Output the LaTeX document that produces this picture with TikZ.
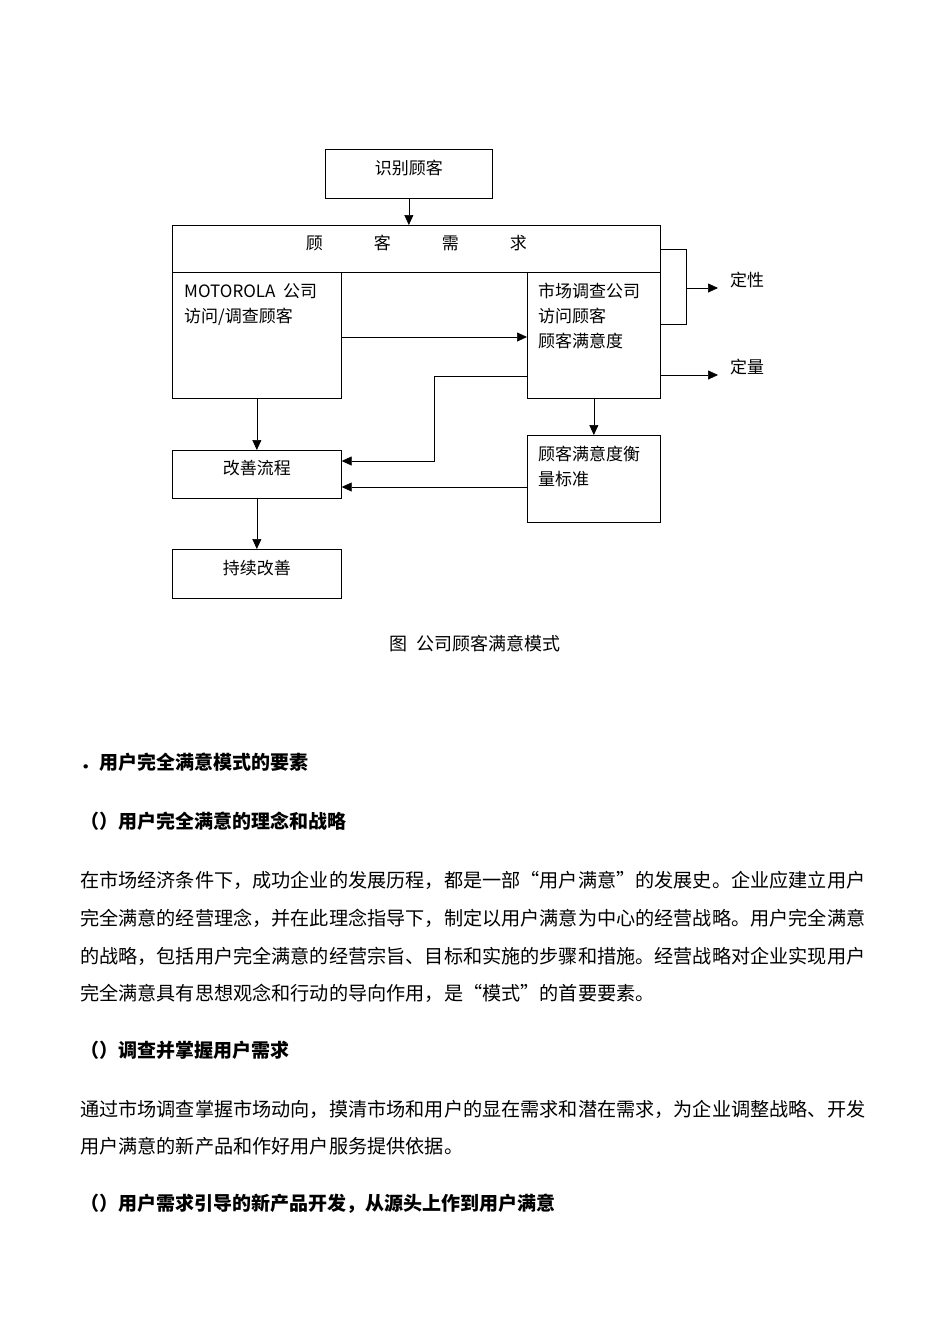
\documentclass[tikz,border=0pt]{standalone}
\usepackage{fontspec}
\setmainfont{Noto Sans CJK SC}
\usetikzlibrary{arrows.meta,positioning,calc}

\tikzset{
  blk/.style={draw,line width=0.7pt,anchor=north west,inner sep=0pt},
  lbl/.style={inner sep=0pt,align=left,font=\fontsize{17}{25}\selectfont},
  mid/.style={lbl,yshift=6pt},
  body/.style={inner sep=0pt,anchor=west,font=\fontsize{19.15}{19}\selectfont},
  head/.style={inner sep=0pt,anchor=west,font=\fontsize{19}{19}\selectfont\bfseries},
  link/.style={line width=0.7pt}
}

\begin{document}
\begin{tikzpicture}[x=1pt,y=-1pt,>={Triangle[length=10pt,width=9pt]}]
\fill[white] (0,0) rectangle (950,1344);

\node[blk,minimum width=167pt,minimum height=49pt] (ident) at (325,149) {};
\node[blk,minimum width=488pt,minimum height=47pt] (need) at (172,225) {};
\node[blk,minimum width=169pt,minimum height=126pt] (moto) at (172,272) {};
\node[blk,minimum width=133pt,minimum height=126pt] (survey) at (527,272) {};
\node[blk,minimum width=169pt,minimum height=48pt] (improve) at (172,450) {};
\node[blk,minimum width=133pt,minimum height=87pt] (measure) at (527,435) {};
\node[blk,minimum width=169pt,minimum height=49pt] (keep) at (172,549) {};

\node[mid] (identt) at (ident.center) {识别顾客};
\node[mid] (needt) at (need.center) {顾\hspace{51pt}客\hspace{51pt}需\hspace{51pt}求};
\node[lbl,anchor=north west,below right=11pt and 12pt of moto.north west] (motot) {MOTOROLA\ \ 公司\\访问/调查顾客};
\node[lbl,anchor=north west,below right=11pt and 11pt of survey.north west] (surveyt) {市场调查公司\\访问顾客\\顾客满意度};
\node[lbl,anchor=north west,below right=11pt and 11pt of measure.north west] (measuret) {顾客满意度衡\\量标准};
\node[mid] (improvet) at (improve.center) {改善流程};
\node[mid] (keept) at (keep.center) {持续改善};
\node[lbl,anchor=west] (qual) at (730,280) {定性};
\node[lbl,anchor=west] (quant) at (730,367) {定量};

\coordinate (jr) at (686,249);
\coordinate (jl) at (434,376);
\draw[link,->] (ident.south) -- (ident.south |- need.north);
\draw[link,->] (moto.east |- 0,337) -- (survey.west |- 0,337);
\draw[link] (need.east |- jr) -- (jr) -- (jr |- 0,324) -- (survey.east |- 0,324);
\draw[link,->] (jr |- 0,288) -- (718,288);
\draw[link,->] (survey.east |- 0,375) -- (718,375);
\draw[link,->] (survey.west |- jl) -- (jl) -- (jl |- 0,461) -- (improve.east |- 0,461);
\draw[link,->] (moto.south) -- (improve.north);
\draw[link,->] (survey.south) -- (measure.north);
\draw[link,->] (measure.west |- 0,487) -- (improve.east |- 0,487);
\draw[link,->] (improve.south) -- (keep.north);

\node[inner sep=0pt,font=\fontsize{18}{18}\selectfont] (cap) at (475,644) {图\hspace{9pt}公司顾客满意模式};

\node[head] (h1) at (80,762) {．用户完全满意模式的要素};
\node[head] (h2) at (80,821) {（）用户完全满意的理念和战略};
\foreach \y/\t in {880/{在市场经济条件下，成功企业的发展历程，都是一部“用户满意”的发展史。企业应建立用户},
                   918/{完全满意的经营理念，并在此理念指导下，制定以用户满意为中心的经营战略。用户完全满意},
                   956/{的战略，包括用户完全满意的经营宗旨、目标和实施的步骤和措施。经营战略对企业实现用户},
                   993/{完全满意具有思想观念和行动的导向作用，是“模式”的首要要素。}}
  \node[body] at (80,\y) {\t};
\node[head] (h3) at (80,1050) {（）调查并掌握用户需求};
\node[body] (p2) at (80,1109) {通过市场调查掌握市场动向，摸清市场和用户的显在需求和潜在需求，为企业调整战略、开发};
\node[body] (p3) at (80,1146) {用户满意的新产品和作好用户服务提供依据。};
\node[head] (h4) at (80,1204) {（）用户需求引导的新产品开发，从源头上作到用户满意};
\end{tikzpicture}
\end{document}
